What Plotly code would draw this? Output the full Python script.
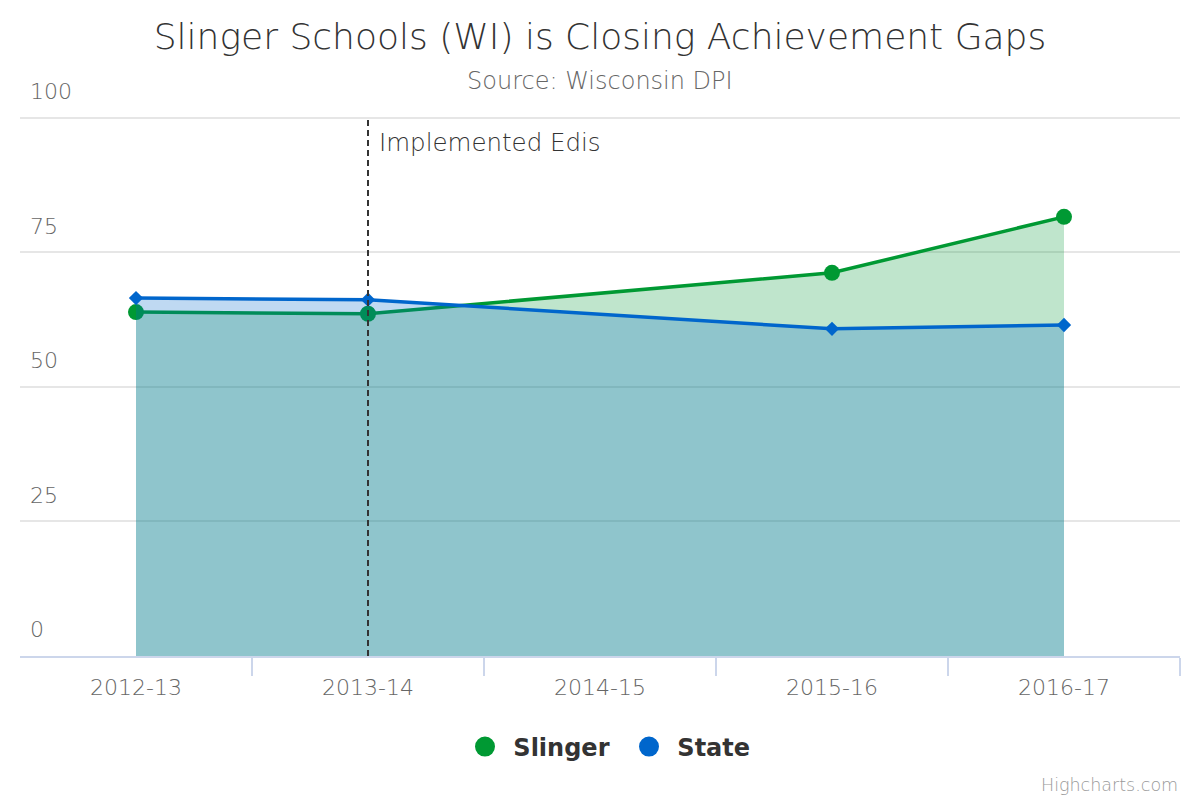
import plotly.graph_objects as go

seasons = ["2012-13", "2013-14", "2014-15", "2015-16", "2016-17"]
slinger = [63.9, 63.6, None, 71.2, 81.6]
state = [66.5, 66.2, None, 60.8, 61.5]
y_ticks = [0, 25, 50, 75, 100]
edis_year = "2013-14"

font_light = "DejaVu Sans ExtraLight, DejaVu Sans"
green = "#009933"
blue = "#0066cc"

fig = go.Figure()

fig.add_trace(go.Scatter(
    x=seasons, y=slinger, name="Slinger", mode="lines+markers",
    connectgaps=True, fill="tozeroy", fillcolor="rgba(0,153,51,0.25)",
    line=dict(color=green, width=3.5),
    marker=dict(symbol="circle", size=16, color=green),
    showlegend=False,
))
fig.add_trace(go.Scatter(
    x=seasons, y=state, name="State", mode="lines+markers",
    connectgaps=True, fill="tozeroy", fillcolor="rgba(0,102,204,0.25)",
    line=dict(color=blue, width=3.5),
    marker=dict(symbol="diamond", size=11, color=blue),
    showlegend=False,
))

# legend-only entries (circle symbols like the original)
for nm, col in [("Slinger", green), ("State", blue)]:
    fig.add_trace(go.Scatter(
        x=[None], y=[None], name="\u00a0" + nm, mode="markers",
        marker=dict(symbol="circle", size=24, color=col,
                    line=dict(color=col, width=4)),
    ))

fig.add_shape(type="line", xref="x", yref="y",
              x0=edis_year, x1=edis_year, y0=0, y1=100,
              line=dict(color="#333333", width=2, dash="6px,4px"),
              layer="above")

fig.add_annotation(x=edis_year, y=100, xref="x", yref="y",
                   text="Implemented Edis", showarrow=False,
                   xanchor="left", yanchor="top", xshift=9, yshift=-8,
                   font=dict(family=font_light, size=24.5, color="#333333", weight=200))

fig.add_annotation(x=0.5, y=0.971, xref="paper", yref="paper",
                   text="Source: Wisconsin DPI", showarrow=False,
                   xanchor="center", yanchor="middle",
                   font=dict(family=font_light, size=24, color="#666666", weight=200))

fig.add_annotation(x=1, y=-0.218, xref="paper", yref="paper",
                   text="Highcharts.com", showarrow=False,
                   xanchor="right", yanchor="middle",
                   font=dict(family=font_light, size=17.5, color="#999999", weight=200))

fig.update_layout(
    width=1200, height=800,
    paper_bgcolor="white", plot_bgcolor="white",
    margin=dict(l=20, r=20, t=64, b=144),
    title=dict(text="Slinger Schools (WI) is Closing Achievement Gaps",
               x=0.5, xanchor="center", y=1 - 36 / 800, yanchor="middle",
               font=dict(family=font_light, size=36, color="#333333", weight=200)),
    legend=dict(orientation="h", x=0.525, xanchor="center", y=-0.1537, yanchor="middle",
                font=dict(family="DejaVu Sans", size=24, color="#333333", weight="bold"),
                itemsizing="trace", entrywidth=119),
    xaxis=dict(type="category", range=[-0.5, 4.5], tickson="boundaries",
               ticks="outside", ticklen=18, tickwidth=2, tickcolor="#ccd6eb",
               showline=True, linecolor="#ccd6eb", linewidth=2,
               showgrid=False, zeroline=False, ticklabelstandoff=11,
               tickfont=dict(family=font_light, size=22, color="#666666", weight=200)),
    yaxis=dict(range=[0, 110], tickvals=y_ticks, ticklabelposition="inside top",
               ticklabelshift=-11, ticklabelstandoff=7,
               showgrid=True, gridcolor="#e6e6e6", gridwidth=2,
               zeroline=False, showline=False,
               tickfont=dict(family=font_light, size=22, color="#666666", weight=200)),
)

fig.write_html("out.html", config={"displayModeBar": False},
               post_script="document.body.style.margin='0px';")
